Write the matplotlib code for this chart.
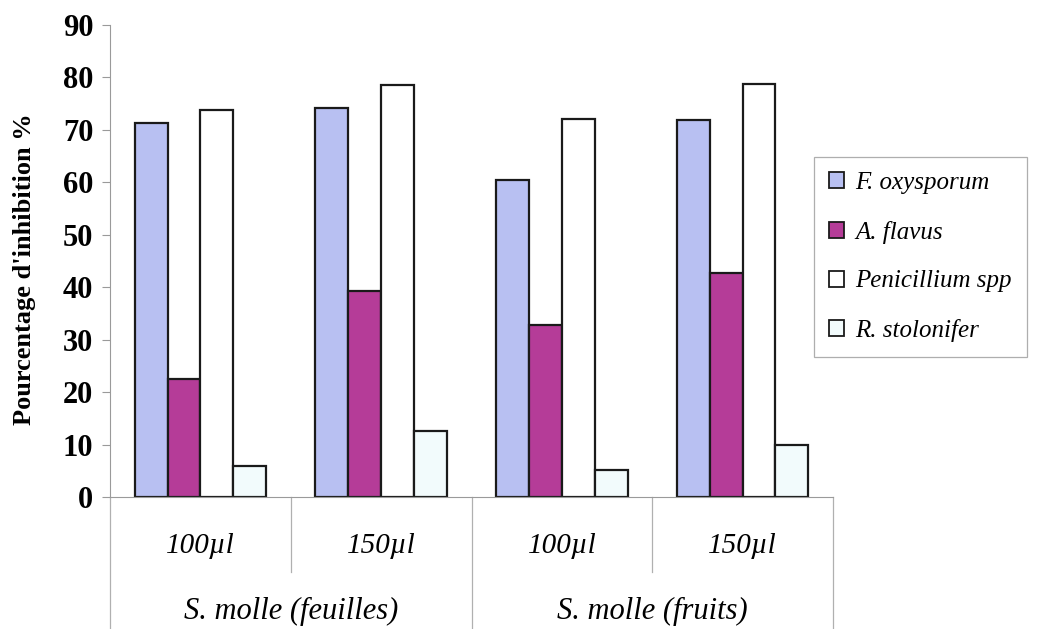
import numpy as np
import matplotlib
matplotlib.use("Agg")
import matplotlib.pyplot as plt

plt.rcParams['font.family'] = ['Liberation Serif', 'DejaVu Serif']

# Data
doses = ["100µl", "150µl", "100µl", "150µl"]
extracts = ["S. molle (feuilles)", "S. molle (fruits)"]
species = ["F. oxysporum", "A. flavus", "Penicillium spp", "R. stolonifer"]
f_oxysporum = [71.3, 74.2, 60.5, 71.8]
a_flavus = [22.5, 39.3, 32.8, 42.8]
penicillium = [73.7, 78.6, 72.1, 78.8]
r_stolonifer = [5.9, 12.6, 5.2, 10.0]
colors = ["#b8c0f2", "#b53c98", "#ffffff", "#f2fbfc"]

series = [f_oxysporum, a_flavus, penicillium, r_stolonifer]

fig = plt.figure(figsize=(10.41, 6.29), dpi=100)
ax = fig.add_axes([0.1057, 0.2099, 0.6945, 0.7504])

x = np.arange(len(doses))
w = 1 / 5.5
for i, (vals, name, col) in enumerate(zip(series, species, colors)):
    ax.bar(x + (i - 1.5) * w, vals, w, color=col, edgecolor="#1a1a1a",
           linewidth=1.6, label=name)

ax.set_xlim(-0.5, len(doses) - 0.5)
ax.set_ylim(0, 90)
ax.set_yticks(np.arange(0, 91, 10))
ax.set_xticks([])
for s in ["top", "right"]:
    ax.spines[s].set_visible(False)
ax.spines["left"].set_color("#9a9a9a")
ax.spines["bottom"].set_color("#9a9a9a")
ax.tick_params(axis="y", direction="out", length=6, color="#9a9a9a", pad=6)
for t in ax.get_yticklabels():
    t.set_fontsize(22)
    t.set_fontweight("bold")
ax.set_ylabel("Pourcentage d'inhibition %", fontsize=19, fontweight="bold")
ax.yaxis.set_label_coords(-0.102, 0.483)

# multi-level category axis
trans = ax.get_xaxis_transform()
for k in range(len(doses) + 1):
    xpos = k - 0.5
    y_end = -0.28 if k % 2 == 0 else -0.159
    ax.plot([xpos, xpos], [0, y_end], transform=trans, color="#b0b0b0",
            linewidth=0.9, clip_on=False)
for k, d in enumerate(doses):
    ax.text(k, -0.104, d, transform=trans, ha="center", va="center",
            fontsize=21, style="italic")
for j, e in enumerate(extracts):
    ax.text(2 * j + 0.5, -0.2415, e, transform=trans, ha="center", va="center",
            fontsize=22, style="italic")

leg = ax.legend(loc="upper left", bbox_to_anchor=(0.782, 0.7504), bbox_transform=fig.transFigure,
                frameon=True, fancybox=False, edgecolor="#9a9a9a", borderaxespad=0,
                prop={"style": "italic", "size": 18}, handlelength=0.6, handleheight=0.6,
                handletextpad=0.45, labelspacing=1.07, borderpad=0.6)
leg.get_frame().set_linewidth(0.9)
for h in leg.legend_handles:
    h.set_linewidth(1.3)

fig.savefig("out.png", dpi=100)
